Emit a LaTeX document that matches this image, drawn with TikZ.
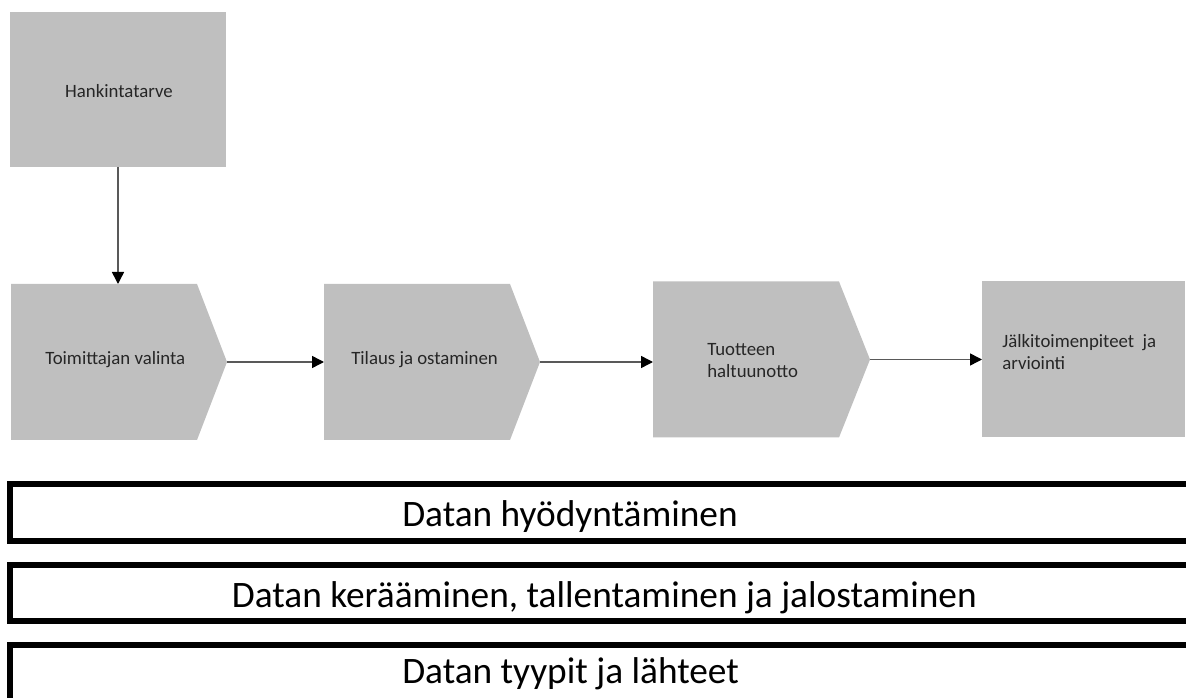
\documentclass[tikz,border=0pt]{standalone}
\usepackage{fontspec}
\setmainfont{Carlito}
\usetikzlibrary{arrows.meta}
\definecolor{stagegray}{HTML}{BFBFBF}
\definecolor{txtgray}{HTML}{262626}
\definecolor{linegray}{HTML}{595959}
\newcommand\pentafill[2]{%
  \fill[stagegray] (#1.north west) -- ([xshift=-#2*0.75pt]#1.north east) -- (#1.east)
    -- ([xshift=-#2*0.75pt]#1.south east) -- (#1.south west) -- cycle;}
\newcommand\openbar[1]{%
  \draw[barline] (#1.north east) -- (#1.north west) -- (#1.south west) -- (#1.south east);}
\begin{document}
\begin{tikzpicture}[x=0.75pt,y=-0.75pt,
  slot/.style={minimum width=#1*0.75pt, minimum height=156*0.75pt, inner sep=0pt, outer sep=0pt},
  grayrect/.style={fill=stagegray, minimum width=#1*0.75pt, minimum height=156*0.75pt, inner sep=0pt, outer sep=0pt},
  smalltxt/.style={font=\fontsize{14.1}{16.5}\selectfont, text=txtgray, inner sep=0pt, align=left},
  bigtxt/.style={font=\fontsize{28}{34}\selectfont, text=black, inner sep=0pt, anchor=base west},
  bar/.style={minimum width=1176*0.75pt, minimum height=#1*0.75pt, inner sep=0pt, outer sep=0pt, anchor=north west},
  barline/.style={draw=black, line width=4.5pt, line join=miter},
  flow/.style={draw=linegray, line width=1.1pt, -{Triangle[length=9pt,width=9pt,color=black,fill=black]}}
]
\useasboundingbox (0,0) rectangle (1186,698);
\clip (0,0) rectangle (1186,698);

% top box
\node[grayrect=216, minimum height=155*0.75pt] (h1) at (118,89.5) {};
% stages
\node[slot=216] (p1) at (119,362) {};
\node[slot=216] (p2) at (432,362) {};
\node[slot=217] (p3) at (761.5,359.5) {};
\node[grayrect=203] (p4) at (1083.5,359.5) {};
\pentafill{p1}{30}
\pentafill{p2}{30}
\pentafill{p3}{31}

% texts
\node[smalltxt, anchor=base] (t0) at (119,98) {Hankintatarve};
\node[smalltxt, anchor=base west] (t1) at (45,365) {Toimittajan valinta};
\node[smalltxt, anchor=base west] (t2) at (351,365) {Tilaus ja ostaminen};
\node[smalltxt, anchor=base west] (t3) at (707,378) {Tuotteen\\haltuunotto};
\node[smalltxt, anchor=base west] (t4) at (1002,370) {Jälkitoimenpiteet\ \ ja\\arviointi};

% connectors
\draw[flow] (h1.south) -- (h1.south |- p1.north);
\draw[flow] (p1.east) -- (p2.west);
\draw[flow] (p2.east) -- (p2.east -| p3.west);
\draw[flow] (p3.east) -- (p4.west);

% bars
\node[bar=57] (b1) at (10,484) {};
\node[bar=56] (b2) at (10,565) {};
\node[bar=60] (b3) at (10,645) {};
\openbar{b1}
\openbar{b2}
\draw[barline] (b3.north east) -- (b3.north west) -- (b3.south west);
\node[bigtxt] (l1) at (402,527) {Datan hyödyntäminen};
\node[bigtxt, anchor=base east] (l2) at (977,607) {Datan kerääminen, tallentaminen ja jalostaminen};
\node[bigtxt] (l3) at (402,683) {Datan tyypit ja lähteet};
\end{tikzpicture}
\end{document}
